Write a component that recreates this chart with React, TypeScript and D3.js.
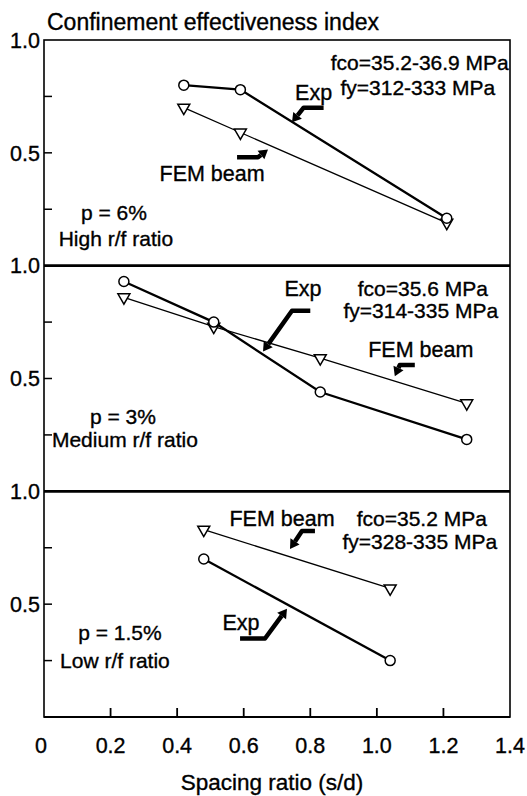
import React from "react";
import * as d3 from "d3";

// spacing ratio (s/d) and confinement effectiveness index
const highExpX = [0.42, 0.59, 1.21];
const highExpY = [0.8, 0.78, 0.21];
const highFemX = [0.42, 0.59, 1.21];
const highFemY = [0.7, 0.59, 0.19];

const medExpX = [0.24, 0.51, 0.83, 1.27];
const medExpY = [0.93, 0.75, 0.44, 0.23];
const medFemX = [0.24, 0.51, 0.83, 1.27];
const medFemY = [0.86, 0.73, 0.59, 0.39];

const lowExpX = [0.48, 1.04];
const lowExpY = [0.7, 0.25];
const lowFemX = [0.48, 1.04];
const lowFemY = [0.83, 0.57];

const xTicks = [0, 0.2, 0.4, 0.6, 0.8, 1.0, 1.2, 1.4];
const xTickLabels = ["0", "0.2", "0.4", "0.6", "0.8", "1.0", "1.2", "1.4"];
const yMinorTicks = [0.25, 0.5, 0.75];
const yTickLabels = ["1.0", "0.5"];

type Pt = [number, number];
type Label = { text: string; at: Pt; size: number };

interface Panel {
  expX: number[];
  expY: number[];
  femX: number[];
  femY: number[];
  labels: Label[];
  arrows: Pt[][]; // start, bend, tip in data units
}

const panels: Panel[] = [
  {
    expX: highExpX,
    expY: highExpY,
    femX: highFemX,
    femY: highFemY,
    labels: [
      { text: "fco=35.2-36.9 MPa", at: [1.129, 0.9], size: 21 },
      { text: "fy=312-333 MPa", at: [1.123, 0.79], size: 21 },
      { text: "Exp", at: [0.81, 0.77], size: 21.5 },
      { text: "FEM beam", at: [0.505, 0.41], size: 21.5 },
      { text: "p = 6%", at: [0.21, 0.236], size: 21 },
      { text: "High r/f ratio", at: [0.216, 0.12], size: 21 },
    ],
    arrows: [
      [[0.84, 0.7], [0.78, 0.7], [0.745, 0.635]],
      [[0.58, 0.48], [0.643, 0.48], [0.673, 0.515]],
    ],
  },
  {
    expX: medExpX,
    expY: medExpY,
    femX: medFemX,
    femY: medFemY,
    labels: [
      { text: "Exp", at: [0.778, 0.9], size: 21.5 },
      { text: "fco=35.6 MPa", at: [1.138, 0.9], size: 21 },
      { text: "fy=314-335 MPa", at: [1.132, 0.8], size: 21 },
      { text: "FEM beam", at: [1.132, 0.631], size: 21.5 },
      { text: "p = 3%", at: [0.237, 0.333], size: 21 },
      { text: "Medium r/f ratio", at: [0.243, 0.231], size: 21 },
    ],
    arrows: [
      [[0.8, 0.8], [0.745, 0.8], [0.658, 0.62]],
      [[1.114, 0.56], [1.069, 0.56], [1.054, 0.51]],
    ],
  },
  {
    expX: lowExpX,
    expY: lowExpY,
    femX: lowFemX,
    femY: lowFemY,
    labels: [
      { text: "FEM beam", at: [0.715, 0.881], size: 21.5 },
      { text: "fco=35.2 MPa", at: [1.135, 0.881], size: 21 },
      { text: "fy=328-335 MPa", at: [1.129, 0.78], size: 21 },
      { text: "Exp", at: [0.592, 0.419], size: 21.5 },
      { text: "p = 1.5%", at: [0.228, 0.374], size: 21 },
      { text: "Low r/f ratio", at: [0.213, 0.251], size: 21 },
    ],
    arrows: [
      [[0.814, 0.824], [0.775, 0.824], [0.739, 0.745]],
      [[0.589, 0.348], [0.664, 0.348], [0.73, 0.48]],
    ],
  },
];

const W = 527;
const H = 796;
const left = 44;
const right = 510;
const top = 40;
const bottom = 717;
const panelH = (bottom - top) / panels.length;
const font = "'Liberation Sans', Arial, Helvetica, sans-serif";
// scanned print looks heavy, so give text a hairline outline
const ink = { fill: "#000", stroke: "#000", strokeWidth: 0.35 };

const x = d3.scaleLinear().domain([0, 1.4]).range([left, right]);

function ArrowMark({ pts, y }: { pts: Pt[]; y: d3.ScaleLinear<number, number> }) {
  const p = pts.map(([a, b]) => [x(a), y(b)] as [number, number]);
  const [bx, by] = p[1];
  const [tx, ty] = p[2];
  const ang = Math.atan2(ty - by, tx - bx);
  const headLen = 9;
  const headW = 5.5;
  const baseX = tx - headLen * Math.cos(ang);
  const baseY = ty - headLen * Math.sin(ang);
  const nx = -Math.sin(ang);
  const ny = Math.cos(ang);
  const shaft = d3.line()([p[0], p[1], [baseX, baseY]]) || "";
  const head = `M${tx},${ty}L${baseX + nx * headW},${baseY + ny * headW}L${baseX - nx * headW},${baseY - ny * headW}Z`;
  return (
    <g>
      <path d={shaft} fill="none" stroke="#000" strokeWidth={4.5} strokeLinejoin="round" />
      <path d={head} fill="#000" />
    </g>
  );
}

function PanelView({ panel, index }: { panel: Panel; index: number }) {
  const y0 = top + index * panelH;
  const y = d3.scaleLinear().domain([0, 1]).range([y0 + panelH, y0]);
  const line = d3
    .line<[number, number]>()
    .x((d) => x(d[0]))
    .y((d) => y(d[1]));
  const exp = panel.expX.map((v, i) => [v, panel.expY[i]] as [number, number]);
  const fem = panel.femX.map((v, i) => [v, panel.femY[i]] as [number, number]);
  const tri = d3.symbol().type(d3.symbolTriangle).size(62)() || "";

  return (
    <g>
      {yMinorTicks.map((t) => (
        <line key={t} x1={left} x2={left + 8} y1={y(t)} y2={y(t)} stroke="#000" strokeWidth={1.5} />
      ))}
      {[1, 0.5].map((t, i) => (
        <text
          key={t}
          x={40}
          y={y(t)}
          dy="0.36em"
          textAnchor="end"
          fontSize={21.5}
          fontFamily={font}
          {...ink}
        >
          {yTickLabels[i]}
        </text>
      ))}
      <path d={line(fem) || ""} fill="none" stroke="#000" strokeWidth={1.3} />
      <path d={line(exp) || ""} fill="none" stroke="#000" strokeWidth={2.3} />
      {fem.map((d, i) => (
        <path
          key={"f" + i}
          d={tri}
          transform={`translate(${x(d[0])},${y(d[1])}) rotate(180)`}
          fill="#fff"
          stroke="#000"
          strokeWidth={1.5}
        />
      ))}
      {exp.map((d, i) => (
        <circle key={"e" + i} cx={x(d[0])} cy={y(d[1])} r={5} fill="#fff" stroke="#000" strokeWidth={1.5} />
      ))}
      {panel.labels.map((l) => (
        <text
          key={l.text}
          x={x(l.at[0])}
          y={y(l.at[1])}
          dy="0.36em"
          textAnchor="middle"
          fontSize={l.size}
          fontFamily={font}
          {...ink}
        >
          {l.text}
        </text>
      ))}
      {panel.arrows.map((a, i) => (
        <ArrowMark key={i} pts={a} y={y} />
      ))}
    </g>
  );
}

export default function App() {
  return (
    <svg
      width={W}
      height={H}
      style={{ position: "absolute", left: 0, top: 0, background: "#fff" }}
    >
      <text x={47} y={30} fontSize={23} fontFamily={font} {...ink}>
        Confinement effectiveness index
      </text>
      {panels.map((p, i) => (
        <PanelView key={i} panel={p} index={i} />
      ))}
      {/* frame: thin top edge, heavier dividers and bottom axis */}
      <rect x={left} y={top} width={right - left} height={bottom - top} fill="none" stroke="#000" strokeWidth={1.6} />
      {[1, 2].map((i) => (
        <line key={i} x1={left} x2={right} y1={top + i * panelH} y2={top + i * panelH} stroke="#000" strokeWidth={2.8} />
      ))}
      <line x1={left} x2={right} y1={bottom} y2={bottom} stroke="#000" strokeWidth={2.2} />
      {xTicks.slice(1, -1).map((t) => (
        <line key={t} x1={x(t)} x2={x(t)} y1={bottom} y2={bottom - 9} stroke="#000" strokeWidth={1.8} />
      ))}
      {xTicks.map((t, i) => (
        <text
          key={t}
          x={x(t) - (i === 0 ? 3 : 0)}
          y={753}
          textAnchor="middle"
          fontSize={21.5}
          fontFamily={font}
          {...ink}
        >
          {xTickLabels[i]}
        </text>
      ))}
      <text x={272} y={790} textAnchor="middle" fontSize={22.5} fontFamily={font} {...ink}>
        Spacing ratio (s/d)
      </text>
    </svg>
  );
}
